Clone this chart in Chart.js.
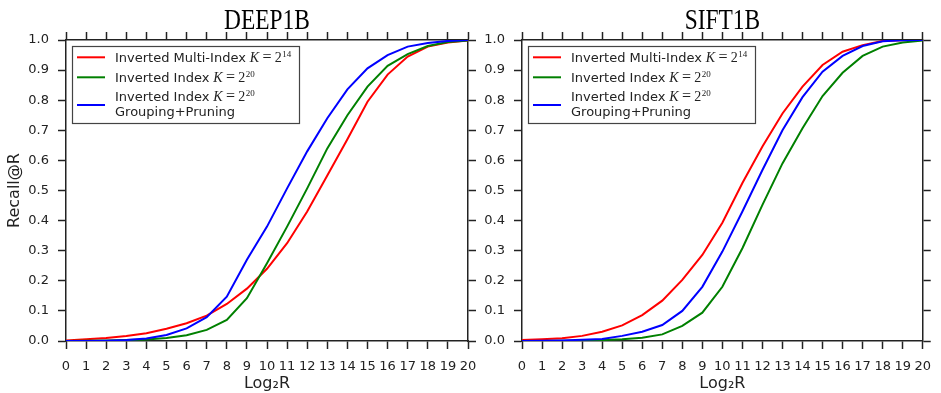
<!DOCTYPE html>
<html>
<head>
<meta charset="utf-8">
<script src="https://cdn.jsdelivr.net/npm/chart.js@4.4.1/dist/chart.umd.min.js"></script>
<style>
  html, body { margin: 0; padding: 0; background: #fff; }
  #wrap { position: relative; width: 941px; height: 393px; }
  #wrap canvas { position: absolute; left: 0; top: 0; }
</style>
</head>
<body>
<div id="wrap">
  <canvas id="deep" width="941" height="393"></canvas>
  <canvas id="sift" width="941" height="393"></canvas>
</div>
<script>
// x values (log2 R)
const log2R = [0, 1, 2, 3, 4, 5, 6, 7, 8, 9, 10, 11, 12, 13, 14, 15, 16, 17, 18, 19, 20];
const yTicks = [0, 0.1, 0.2, 0.3, 0.4, 0.5, 0.6, 0.7, 0.8, 0.9, 1.0];

// DEEP1B
const deepMulti   = [0.002, 0.006, 0.010, 0.017, 0.026, 0.041, 0.059, 0.084, 0.123, 0.174, 0.240, 0.325, 0.430, 0.550, 0.670, 0.795, 0.885, 0.945, 0.978, 0.992, 0.998];
const deepInv     = [0.000, 0.001, 0.002, 0.003, 0.005, 0.010, 0.019, 0.037, 0.070, 0.142, 0.258, 0.380, 0.507, 0.640, 0.750, 0.845, 0.914, 0.953, 0.980, 0.993, 0.998];
const deepInvGP   = [0.000, 0.000, 0.001, 0.003, 0.008, 0.020, 0.042, 0.079, 0.147, 0.270, 0.380, 0.507, 0.630, 0.740, 0.836, 0.906, 0.950, 0.978, 0.990, 0.997, 1.000];

// SIFT1B
const siftMulti   = [0.003, 0.006, 0.009, 0.017, 0.031, 0.052, 0.086, 0.134, 0.203, 0.286, 0.393, 0.525, 0.646, 0.756, 0.845, 0.917, 0.961, 0.983, 0.997, 0.999, 1.000];
const siftInv     = [0.000, 0.000, 0.001, 0.002, 0.003, 0.006, 0.011, 0.022, 0.050, 0.094, 0.180, 0.308, 0.452, 0.590, 0.707, 0.814, 0.891, 0.947, 0.978, 0.992, 0.998];
const siftInvGP   = [0.000, 0.001, 0.002, 0.004, 0.007, 0.017, 0.031, 0.053, 0.100, 0.180, 0.297, 0.430, 0.568, 0.700, 0.810, 0.895, 0.947, 0.980, 0.996, 0.999, 1.000];

const W = 941, H = 393;
const ink = '#222';

// legend entries: text, then math "K=2^exp"
const legendItems = [
  { color: '#ff0000', lines: ['Inverted Multi-Index '], exp: '14' },
  { color: '#008000', lines: ['Inverted Index '], exp: '20' },
  { color: '#0000ff', lines: ['Inverted Index ', 'Grouping+Pruning'], exp: '20' }
];

const decor = {
  id: 'decor',
  afterDraw(chart, args, opts) {
    const { ctx, chartArea } = chart;
    ctx.save();

    // panel title
    const cx = (chartArea.left + chartArea.right) / 2;
    ctx.fillStyle = '#000';
    ctx.font = '30px "Liberation Serif", serif';
    ctx.textAlign = 'center';
    ctx.textBaseline = 'alphabetic';
    ctx.translate(cx, 29);
    ctx.scale(0.78, 1);
    ctx.fillText(opts.title, 0, 0);
    ctx.setTransform(1, 0, 0, 1, 0, 0);

    // legend box
    const L = chartArea.left + 6, T = chartArea.top + 6;
    ctx.fillStyle = '#fff';
    ctx.fillRect(L, T, 227, 77);
    ctx.strokeStyle = '#444';
    ctx.lineWidth = 1.2;
    ctx.strokeRect(L + 0.5, T + 0.5, 227, 77);

    const sampleY = [11.3, 31.3, 59];
    const baseY = [15.7, 35.7, 55];
    legendItems.forEach((item, i) => {
      ctx.strokeStyle = item.color;
      ctx.lineWidth = 2;
      ctx.beginPath();
      ctx.moveTo(L + 5, T + sampleY[i]);
      ctx.lineTo(L + 33, T + sampleY[i]);
      ctx.stroke();

      const tx = L + 43, ty = T + baseY[i];
      ctx.fillStyle = '#222';
      ctx.textAlign = 'left';
      ctx.font = '13px "DejaVu Sans", sans-serif';
      ctx.fillText(item.lines[0], tx, ty);
      if (item.lines[1]) ctx.fillText(item.lines[1], tx, ty + 15);

      // math part  K = 2^exp
      const mx = tx + ctx.measureText(item.lines[0]).width;
      ctx.textAlign = 'center';
      ctx.font = 'italic 14px "Liberation Serif", serif';
      ctx.fillText('K', mx + 4.5, ty);
      ctx.font = '16px "Liberation Serif", serif';
      ctx.fillText('=', mx + 17, ty);
      ctx.font = '14px "Liberation Serif", serif';
      ctx.fillText('2', mx + 28.3, ty);
      ctx.font = '9px "Liberation Serif", serif';
      ctx.fillText(item.exp, mx + 36.7, ty - 5);
    });
    ctx.restore();
  }
};

function makeChart(id, title, multi, inv, invGP, area, showYTitle) {
  const pts = arr => log2R.map((x, i) => ({ x: x, y: arr[i] }));
  const grid = {
    display: true,
    drawOnChartArea: false,
    drawTicks: true,
    tickLength: 8,
    tickWidth: 1.5,
    tickColor: ink,
    color: ink
  };
  const border = { display: true, color: ink, width: 1.5 };
  const tickFont = { family: '"DejaVu Sans", sans-serif', size: 13 };

  new Chart(document.getElementById(id), {
    type: 'line',
    data: {
      datasets: [
        { data: pts(multi), borderColor: '#ff0000', order: 2 },
        { data: pts(inv), borderColor: '#008000', order: 1 },
        { data: pts(invGP), borderColor: '#0000ff', order: 0 }
      ]
    },
    options: {
      responsive: false,
      animation: false,
      devicePixelRatio: 1,
      layout: { padding: 0 },
      elements: {
        point: { radius: 0 },
        line: { borderWidth: 2, tension: 0, fill: false }
      },
      scales: {
        x: {
          type: 'linear', position: 'bottom', min: 0, max: 20,
          ticks: { stepSize: 1, color: ink, font: tickFont, padding: 10, maxRotation: 0, autoSkip: false },
          grid: grid, border: border,
          title: { display: true, text: 'Log₂R', color: ink, font: { family: '"DejaVu Sans", sans-serif', size: 16 }, padding: { top: 0, bottom: 0 } },
          afterFit(s) { s.height = H - area.bottom; }
        },
        x2: {
          type: 'linear', position: 'top', min: 0, max: 20,
          ticks: { stepSize: 1, display: false },
          grid: grid, border: border,
          afterFit(s) { s.height = area.top; }
        },
        y: {
          type: 'linear', position: 'left', min: 0, max: 1,
          afterBuildTicks(s) { s.ticks = yTicks.map(v => ({ value: v })); },
          ticks: { color: ink, font: tickFont, padding: 9, callback: v => v.toFixed(1) },
          grid: grid, border: border,
          title: { display: showYTitle, text: 'Recall@R', color: ink, font: { family: '"DejaVu Sans", sans-serif', size: 16 }, padding: { top: 5, bottom: 0 } },
          afterFit(s) { s.width = area.left; }
        },
        y2: {
          type: 'linear', position: 'right', min: 0, max: 1,
          afterBuildTicks(s) { s.ticks = yTicks.map(v => ({ value: v })); },
          ticks: { display: false },
          grid: grid, border: border,
          afterFit(s) { s.width = W - area.right; }
        }
      },
      plugins: {
        legend: { display: false },
        tooltip: { enabled: false },
        decor: { title: title }
      }
    },
    plugins: [decor]
  });
}

makeChart('deep', 'DEEP1B', deepMulti, deepInv, deepInvGP, { left: 66, right: 468, top: 40, bottom: 341 }, true);
makeChart('sift', 'SIFT1B', siftMulti, siftInv, siftInvGP, { left: 522, right: 924, top: 40, bottom: 341 }, false);
</script>
</body>
</html>
